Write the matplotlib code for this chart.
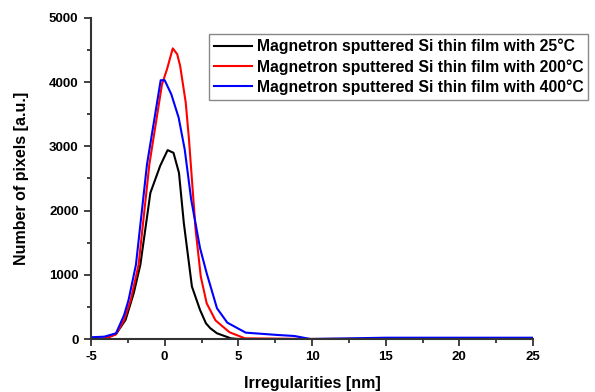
import numpy as np
import matplotlib
matplotlib.use('Agg')
import matplotlib.pyplot as plt
from matplotlib.ticker import MultipleLocator

plt.rcParams['font.family'] = ['Liberation Sans', 'DejaVu Sans']
plt.rcParams['font.weight'] = 'bold'
plt.rcParams['axes.unicode_minus'] = False

x_25 = [-5, -4.1, -3.3, -2.65, -2.1, -1.65, -0.97, -0.3, 0.2, 0.6, 0.97, 1.3,
        1.85, 2.4, 2.8, 3.1, 3.55, 4.5, 5.0, 10, 25]
y_25 = [0, 0, 78, 300, 714, 1156, 2276, 2700, 2942, 2900, 2589, 1807,
        817, 453, 245, 167, 89, 10, 0, 0, 0]

x_200 = [-5, -4.0, -3.3, -2.75, -2.3, -1.77, -1.04, -0.18, 0.16, 0.55, 0.85, 1.05,
         1.43, 1.65, 1.95, 2.1, 2.45, 2.85, 3.45, 4.4, 5.45, 10, 25]
y_200 = [0, 10, 73, 297, 609, 1156, 2719, 3968, 4203, 4527, 4437, 4255,
         3683, 3109, 2172, 1703, 974, 557, 290, 105, 10, 0, 5]

x_400 = [-5, -4.1, -3.3, -2.75, -2.45, -1.95, -1.2, -0.27, 0.0, 0.45, 0.95, 1.36,
         1.8, 2.4, 2.85, 3.55, 4.25, 5.5, 7.7, 8.8, 9.9, 12.5, 15, 25]
y_400 = [27, 36, 89, 375, 609, 1156, 2719, 4031, 4031, 3812, 3448, 2953,
         2172, 1417, 1026, 479, 255, 99, 62, 47, 0, 10, 20, 20]

labels = ['Magnetron sputtered Si thin film with 25°C',
          'Magnetron sputtered Si thin film with 200°C',
          'Magnetron sputtered Si thin film with 400°C']

fig = plt.figure(figsize=(5.95, 3.92), dpi=100)
ax = fig.add_axes([91 / 595, 53 / 392, 442 / 595, 321 / 392])

ax.plot(x_25, y_25, color='black', lw=1.5, label=labels[0])
ax.plot(x_200, y_200, color='#ff0000', lw=1.5, label=labels[1])
ax.plot(x_400, y_400, color='#0000ff', lw=1.5, label=labels[2])

ax.set_xlim(-5, 25)
ax.set_ylim(0, 5000)
ax.xaxis.set_major_locator(MultipleLocator(5))
ax.xaxis.set_minor_locator(MultipleLocator(2.5))
ax.yaxis.set_major_locator(MultipleLocator(1000))
ax.yaxis.set_minor_locator(MultipleLocator(500))

for s in ['top', 'right']:
    ax.spines[s].set_visible(False)
for s in ['left', 'bottom']:
    ax.spines[s].set_color('#333333')
    ax.spines[s].set_linewidth(1.5)
ax.tick_params(which='both', direction='out', color='#333333', width=1.3)
ax.tick_params(which='major', length=5, labelsize=9.5, pad=4)
ax.tick_params(which='minor', length=3)
for lab in ax.get_xticklabels() + ax.get_yticklabels():
    lab.set_fontweight('bold')

ax.set_xlabel('Irregularities [nm]', fontsize=11.5, fontweight='bold', labelpad=9)
ax.set_ylabel('Number of pixels [a.u.]', fontsize=11.5, fontweight='bold', labelpad=14)

leg = fig.legend(loc='upper right', bbox_to_anchor=(588 / 595, 1 - 34 / 392),
                 prop={'size': 11.3, 'weight': 'bold'}, fancybox=False,
                 framealpha=1, edgecolor='#888888', handlelength=2.4,
                 handletextpad=0.3, labelspacing=0.3, borderpad=0.3,
                 borderaxespad=0)
leg.get_frame().set_linewidth(1.0)

fig.savefig('out.png', dpi=100)
